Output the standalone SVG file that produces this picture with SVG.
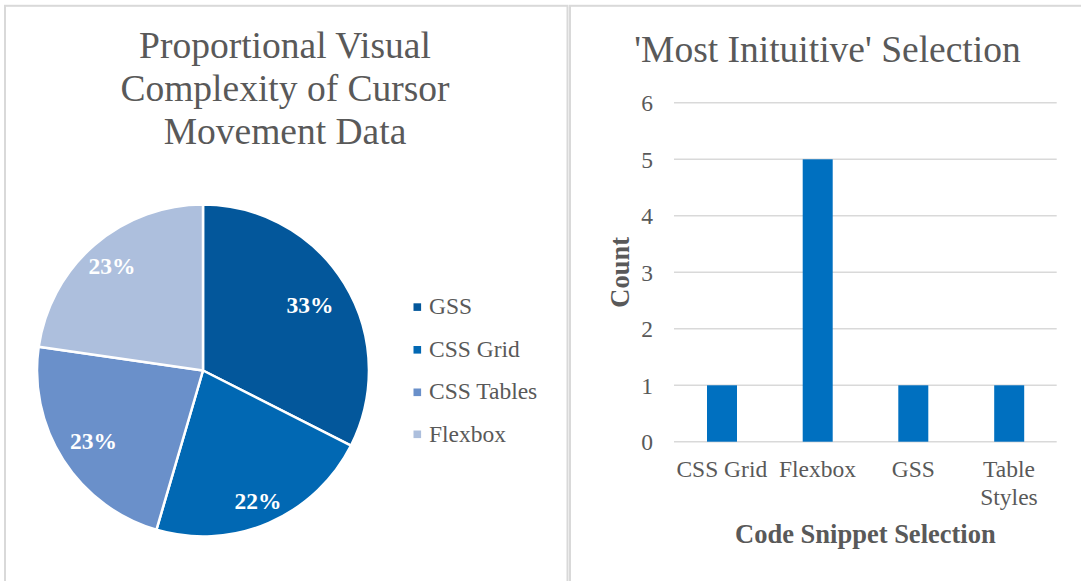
<svg xmlns="http://www.w3.org/2000/svg" width="1081" height="581" viewBox="0 0 1081 581" font-family="'Liberation Serif', 'Times New Roman', Times, serif">
<style>
  .frame { fill: #ffffff; stroke: #d9d9d9; stroke-width: 2; }
  .title { font-size: 37.5px; fill: #595959; text-anchor: middle; }
  .lbl { font-size: 23.5px; fill: #595959; }
  .pct { font-size: 23.5px; font-weight: bold; fill: #ffffff; text-anchor: middle; }
  .axt { font-size: 26.5px; font-weight: bold; fill: #595959; text-anchor: middle; }
  .grid { stroke: #d9d9d9; stroke-width: 1.5; }
  .slice { stroke: #ffffff; stroke-width: 2.5; stroke-linejoin: round; }
  .bar { fill: #0070c0; }
</style>
<rect x="0" y="0" width="1081" height="581" fill="#ffffff"/>

<g id="pie-chart">
  <rect class="frame" x="5" y="5.8" width="562.5" height="600"/>
  <text class="title" x="285" y="57.5">Proportional Visual</text>
  <text class="title" x="285" y="100.5">Complexity of Cursor</text>
  <text class="title" x="285" y="143.5">Movement Data</text>

  <g id="slice-gss">
    <path class="slice" fill="#03579b" d="M203,370.5 L203,204.5 A166,166 0 0 1 351.0,445.6 Z"/>
    <text class="pct" x="310" y="312.5">33%</text>
  </g>
  <g id="slice-cssgrid">
    <path class="slice" fill="#0168b3" d="M203,370.5 L351.0,445.6 A166,166 0 0 1 156.4,529.8 Z"/>
    <text class="pct" x="258" y="509">22%</text>
  </g>
  <g id="slice-csstables">
    <path class="slice" fill="#6a90ca" d="M203,370.5 L156.4,529.8 A166,166 0 0 1 38.7,346.8 Z"/>
    <text class="pct" x="93.5" y="449">23%</text>
  </g>
  <g id="slice-flexbox">
    <path class="slice" fill="#adbfdd" d="M203,370.5 L38.7,346.8 A166,166 0 0 1 203,204.5 Z"/>
    <text class="pct" x="112" y="274">23%</text>
  </g>

  <g id="legend">
    <rect x="413.5" y="303.3" width="7.6" height="7.6" fill="#03579b"/>
    <text class="lbl" x="429" y="314.3">GSS</text>
    <rect x="413.5" y="346" width="7.6" height="7.6" fill="#0168b3"/>
    <text class="lbl" x="429" y="356.5">CSS Grid</text>
    <rect x="413.5" y="388.5" width="7.6" height="7.6" fill="#6a90ca"/>
    <text class="lbl" x="429" y="399">CSS Tables</text>
    <rect x="413.5" y="430.5" width="7.6" height="7.6" fill="#adbfdd"/>
    <text class="lbl" x="429" y="441.5">Flexbox</text>
  </g>
</g>

<g id="bar-chart">
  <rect class="frame" x="570" y="5.8" width="600" height="600"/>
  <text class="title" x="827.5" y="61.5">'Most Inituitive' Selection</text>

  <g id="gridlines">
    <line class="grid" x1="674" y1="102.7" x2="1056.7" y2="102.7"/>
    <line class="grid" x1="674" y1="159.3" x2="1056.7" y2="159.3"/>
    <line class="grid" x1="674" y1="215.8" x2="1056.7" y2="215.8"/>
    <line class="grid" x1="674" y1="272.3" x2="1056.7" y2="272.3"/>
    <line class="grid" x1="674" y1="328.8" x2="1056.7" y2="328.8"/>
    <line class="grid" x1="674" y1="385.3" x2="1056.7" y2="385.3"/>
    <line class="grid" x1="674" y1="441.7" x2="1056.7" y2="441.7"/>
  </g>

  <g id="y-axis" text-anchor="end">
    <text class="lbl" x="653" y="111.2">6</text>
    <text class="lbl" x="653" y="167.8">5</text>
    <text class="lbl" x="653" y="224.3">4</text>
    <text class="lbl" x="653" y="280.8">3</text>
    <text class="lbl" x="653" y="337.3">2</text>
    <text class="lbl" x="653" y="393.8">1</text>
    <text class="lbl" x="653" y="450.2">0</text>
  </g>
  <text class="axt" transform="translate(628.5,272.3) rotate(-90)" x="0" y="0">Count</text>

  <g id="bar-cssgrid">
    <rect class="bar" x="707" y="385.3" width="30" height="56.4"/>
    <text class="lbl" x="721.8" y="477.3" text-anchor="middle">CSS Grid</text>
  </g>
  <g id="bar-flexbox">
    <rect class="bar" x="802.7" y="159.3" width="30" height="282.4"/>
    <text class="lbl" x="817.5" y="477.3" text-anchor="middle">Flexbox</text>
  </g>
  <g id="bar-gss">
    <rect class="bar" x="898.3" y="385.3" width="30" height="56.4"/>
    <text class="lbl" x="913.3" y="477.3" text-anchor="middle">GSS</text>
  </g>
  <g id="bar-tablestyles">
    <rect class="bar" x="994.2" y="385.3" width="30" height="56.4"/>
    <text class="lbl" x="1009" y="477.3" text-anchor="middle">Table</text>
    <text class="lbl" x="1009" y="505" text-anchor="middle">Styles</text>
  </g>
  <text class="axt" x="865.4" y="543.3">Code Snippet Selection</text>
</g>
</svg>
